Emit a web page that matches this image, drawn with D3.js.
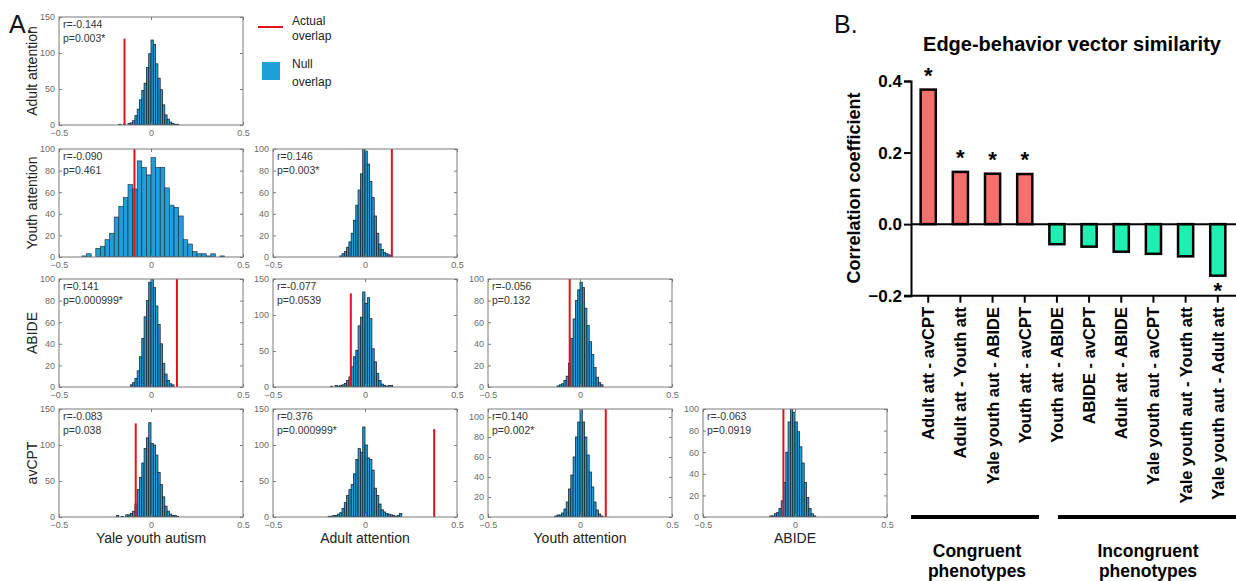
<!DOCTYPE html>
<html>
<head>
<meta charset="utf-8">
<script src="https://cdn.jsdelivr.net/npm/d3@7"></script>
<style>
  body { margin: 0; background: #fff; }
  svg { display: block; font-family: "Liberation Sans", Arial, sans-serif; }
</style>
</head>
<body>
<svg id="fig" width="1236" height="581"></svg>
<script>
// ---- Panel A data: null overlap histograms (rows x columns, lower triangle)
const rowNames = ["Adult attention", "Youth attention", "ABIDE", "avCPT"];
const colNames = ["Yale youth autism", "Adult attention", "Youth attention", "ABIDE"];

const adultYale  = [1,0,1,0,2,3,6,13,22,35,48,58,80,99,118,112,85,65,49,28,14,8,4,2,1,1];
const youthYale  = [1,3,0,8,10,16,22,37,47,55,67,63,89,83,76,92,83,83,64,48,46,38,16,12,5,3,3,1,3,0,1];
const youthAdult = [1,3,5,9,14,22,34,48,62,77,110,98,86,70,55,38,22,12,7,4,3,2,1];
const abideYale  = [2,4,8,15,28,45,65,80,97,112,92,75,58,40,22,12,6,3,2];
const abideAdult = [1,0,2,1,2,3,5,9,14,28,42,51,85,97,132,116,124,95,53,35,19,9,4,2,1,2,2];
const abideYouth = [1,2,3,6,10,22,45,63,80,90,97,92,73,57,42,30,18,9,4,2];
const cptYale    = [2,0,1,0,3,3,5,8,18,38,55,75,95,110,131,102,100,86,62,45,28,15,8,4,2,2,1];
const cptAdult   = [1,1,2,2,4,6,12,20,30,38,45,60,80,95,90,125,100,82,80,65,40,30,18,10,7,5,4,3,2,1,2,5];
const cptYouth   = [1,2,2,4,8,15,28,42,60,80,95,110,95,80,62,45,30,15,7,3,1];
const cptAbide   = [1,1,3,4,8,15,32,60,88,105,97,88,79,65,50,32,18,8,3,1];

const panelRow    = [0, 1, 1, 2, 2, 2, 3, 3, 3, 3];
const panelCol    = [0, 0, 1, 0, 1, 2, 0, 1, 2, 3];
const panelCounts = [adultYale, youthYale, youthAdult, abideYale, abideAdult, abideYouth, cptYale, cptAdult, cptYouth, cptAbide];
const firstBin    = [-0.175, -0.375, -0.1375, -0.1125, -0.1875, -0.125, -0.1875, -0.2, -0.1375, -0.1375];
const binWidth    = [0.0125, 0.025, 0.0125, 0.0125, 0.0125, 0.0125, 0.0125, 0.0125, 0.0125, 0.0125];
const rValues     = [-0.144, -0.090, 0.146, 0.141, -0.077, -0.056, -0.083, 0.376, 0.140, -0.063];
const rLabels     = ["-0.144", "-0.090", "0.146", "0.141", "-0.077", "-0.056", "-0.083", "0.376", "0.140", "-0.063"];
const pLabels     = ["0.003*", "0.461", "0.003*", "0.000999*", "0.0539", "0.132", "0.038", "0.000999*", "0.002*", "0.0919"];
const yMax        = [150, 100, 100, 100, 150, 100, 150, 150, 108, 100];
const redTop      = [120, 100, 100, 100, 130, 100, 130, 122, 108, 100];
const xTicks      = [-0.5, 0, 0.5];
const yTicks150   = [0, 50, 100, 150];
const yTicks100   = [0, 20, 40, 60, 80, 100];

// ---- Panel B data: edge-behavior vector similarity
const pairLabels = ["Adult att - avCPT", "Adult att - Youth att", "Yale youth aut - ABIDE", "Youth att - avCPT",
  "Youth att - ABIDE", "ABIDE - avCPT", "Adult att - ABIDE", "Yale youth aut - avCPT",
  "Yale youth aut - Youth att", "Yale youth aut - Adult att"];
const pairValues = [0.376, 0.146, 0.141, 0.140, -0.056, -0.063, -0.077, -0.083, -0.090, -0.144];
const pairSig    = [true, true, true, true, false, false, false, false, false, true];
const pairCongruent = [true, true, true, true, false, false, false, false, false, false];
const bTicks = [-0.2, 0.0, 0.2, 0.4];

const svg = d3.select("#fig");

// ================= Panel A =================
const colX = [59, 273, 488, 703];
const rowY = [17, 149, 279, 409];
const boxW = 184, boxH = 108;
const gray = "#7a7a7a";

svg.append("text").attr("x", 9).attr("y", 33)
  .attr("font-size", 25).attr("fill", "#111").text("A.");

panelCounts.forEach(function(counts, i) {
  var g = svg.append("g")
    .attr("transform", "translate(" + colX[panelCol[i]] + "," + rowY[panelRow[i]] + ")");

  var x = d3.scaleLinear().domain([-0.5, 0.5]).range([0, boxW]);
  var y = d3.scaleLinear().domain([0, yMax[i]]).range([boxH, 0]);
  var ticks = yMax[i] === 150 ? yTicks150 : yTicks100;

  g.append("clipPath").attr("id", "clip" + i)
    .append("rect").attr("width", boxW).attr("height", boxH);

  var bins = counts.map(function(c, k) { return {x0: firstBin[i] + k * binWidth[i], n: c}; });

  g.append("g").attr("clip-path", "url(#clip" + i + ")")
    .selectAll("rect")
    .data(bins.filter(function(d) { return d.n > 0; }))
    .enter()
    .append("rect")
      .attr("x", function(d) { return x(d.x0); })
      .attr("y", function(d) { return y(d.n); })
      .attr("width", x(binWidth[i]) - x(0))
      .attr("height", function(d) { return boxH - y(d.n); })
      .attr("fill", "#1e9fd8")
      .attr("stroke", "#1a2733")
      .attr("stroke-width", binWidth[i] > 0.02 ? 0.6 : 0.8);

  // red actual overlap line
  g.append("line")
    .attr("x1", x(rValues[i])).attr("x2", x(rValues[i]))
    .attr("y1", y(0)).attr("y2", y(Math.min(redTop[i], yMax[i])))
    .attr("stroke", "#e3121a").attr("stroke-width", 2);

  // axes with inward ticks (matlab box)
  var left = g.append("g").call(d3.axisLeft(y).tickValues(ticks).tickSize(-3).tickPadding(4));
  var right = g.append("g").attr("transform", "translate(" + boxW + ",0)")
    .call(d3.axisRight(y).tickValues(ticks).tickSize(-3).tickFormat(""));
  var bottom = g.append("g").attr("transform", "translate(0," + boxH + ")")
    .call(d3.axisBottom(x).tickValues(xTicks).tickSize(-3).tickPadding(5).tickFormat(d3.format("")));
  var top = g.append("g").call(d3.axisTop(x).tickValues(xTicks).tickSize(-3).tickFormat(""));
  [left, right, bottom, top].forEach(function(a) {
    a.select(".domain").remove();
    a.selectAll("line").attr("stroke", gray);
    a.selectAll("text").attr("fill", "#6a6a6a").attr("font-size", 9)
      .attr("font-family", "'Liberation Sans', Arial, sans-serif");
  });

  g.append("rect").attr("width", boxW).attr("height", boxH)
    .attr("fill", "none").attr("stroke", gray).attr("stroke-width", 1);

  g.append("text").attr("x", 4).attr("y", 11).attr("font-size", 10.5).attr("fill", "#333")
    .text("r=" + rLabels[i]);
  g.append("text").attr("x", 4).attr("y", 25).attr("font-size", 10.5).attr("fill", "#333")
    .text("p=" + pLabels[i]);
});

// row labels (left) and column labels (bottom)
rowNames.forEach(function(name, r) {
  svg.append("text")
    .attr("transform", "translate(37," + (rowY[r] + boxH / 2) + ") rotate(-90)")
    .attr("text-anchor", "middle").attr("font-size", 14).attr("fill", "#222")
    .text(name);
});
colNames.forEach(function(name, c) {
  svg.append("text")
    .attr("x", colX[c] + boxW / 2).attr("y", 543)
    .attr("text-anchor", "middle").attr("font-size", 14).attr("fill", "#222")
    .text(name);
});

// legend
svg.append("line").attr("x1", 258).attr("x2", 283).attr("y1", 27).attr("y2", 27)
  .attr("stroke", "#e3121a").attr("stroke-width", 2);
svg.append("text").attr("x", 292).attr("y", 25).attr("font-size", 12).attr("fill", "#222").text("Actual");
svg.append("text").attr("x", 292).attr("y", 40).attr("font-size", 12).attr("fill", "#222").text("overlap");
svg.append("rect").attr("x", 262).attr("y", 62).attr("width", 18).attr("height", 18).attr("fill", "#1e9fd8");
svg.append("text").attr("x", 292).attr("y", 68).attr("font-size", 12).attr("fill", "#222").text("Null");
svg.append("text").attr("x", 292).attr("y", 86).attr("font-size", 12).attr("fill", "#222").text("overlap");

// ================= Panel B =================
svg.append("text").attr("x", 834).attr("y", 33)
  .attr("font-size", 25).attr("fill", "#111").text("B.");

svg.append("text").attr("x", 1072).attr("y", 51)
  .attr("text-anchor", "middle").attr("font-size", 20).attr("font-weight", "bold")
  .text("Edge-behavior vector similarity");

var by = d3.scaleLinear().domain([-0.2, 0.4]).range([295.7, 81]);
var bx = d3.scaleBand().domain(pairLabels).range([911, 1235]).paddingInner(0.53).paddingOuter(0.3);

var yAxisB = svg.append("g").attr("transform", "translate(911,0)")
  .call(d3.axisLeft(by).tickValues(bTicks).tickSize(7).tickPadding(2).tickFormat(d3.format(".1f")));
yAxisB.select(".domain").attr("stroke", "#000").attr("stroke-width", 2);
yAxisB.selectAll("line").attr("stroke", "#000").attr("stroke-width", 2);
yAxisB.selectAll("text").attr("font-size", 17).attr("font-weight", "bold").attr("fill", "#000")
  .attr("font-family", "'Liberation Sans', Arial, sans-serif");

svg.append("text")
  .attr("transform", "translate(860,188) rotate(-90)")
  .attr("text-anchor", "middle").attr("font-size", 18).attr("font-weight", "bold")
  .text("Correlation coefficient");

// bars
svg.selectAll(".barB")
  .data(pairLabels)
  .enter()
  .append("rect")
    .attr("class", "barB")
    .attr("x", function(d) { return bx(d); })
    .attr("width", bx.bandwidth())
    .attr("y", function(d, i) { return by(Math.max(pairValues[i], 0)); })
    .attr("height", function(d, i) { return Math.abs(by(pairValues[i]) - by(0)); })
    .attr("fill", function(d, i) { return pairCongruent[i] ? "#f7706e" : "#1ff0b2"; })
    .attr("stroke", "#000").attr("stroke-width", 2.5);

// zero line and bottom axis line
svg.append("line").attr("x1", 911).attr("x2", 1236).attr("y1", by(0)).attr("y2", by(0))
  .attr("stroke", "#000").attr("stroke-width", 2);
svg.append("line").attr("x1", 904).attr("x2", 1236).attr("y1", by(-0.2)).attr("y2", by(-0.2))
  .attr("stroke", "#000").attr("stroke-width", 2);

// category ticks and labels
pairLabels.forEach(function(d, i) {
  var cx = bx(d) + bx.bandwidth() / 2;
  svg.append("line").attr("x1", cx).attr("x2", cx).attr("y1", by(-0.2)).attr("y2", by(-0.2) + 7)
    .attr("stroke", "#000").attr("stroke-width", 2);
  svg.append("text")
    .attr("transform", "translate(" + (cx + 6) + ",307) rotate(-90)")
    .attr("text-anchor", "end").attr("font-size", 16.5).attr("font-weight", "bold")
    .text(d);
  if (pairSig[i]) {
    var v = pairValues[i];
    svg.append("text").attr("x", cx).attr("y", v > 0 ? by(v) - 7 : by(v) + 22)
      .attr("text-anchor", "middle").attr("font-size", 22).attr("font-weight", "bold")
      .text("*");
  }
});

// group brackets
svg.append("line").attr("x1", 911).attr("x2", 1039).attr("y1", 517).attr("y2", 517)
  .attr("stroke", "#000").attr("stroke-width", 4);
svg.append("line").attr("x1", 1058).attr("x2", 1236).attr("y1", 517).attr("y2", 517)
  .attr("stroke", "#000").attr("stroke-width", 4);

[["Congruent", "phenotypes", 977], ["Incongruent", "phenotypes", 1148]].forEach(function(t) {
  svg.append("text").attr("x", t[2]).attr("y", 557).attr("text-anchor", "middle")
    .attr("font-size", 17.5).attr("font-weight", "bold").text(t[0]);
  svg.append("text").attr("x", t[2]).attr("y", 577).attr("text-anchor", "middle")
    .attr("font-size", 17.5).attr("font-weight", "bold").text(t[1]);
});
</script>
</body>
</html>
